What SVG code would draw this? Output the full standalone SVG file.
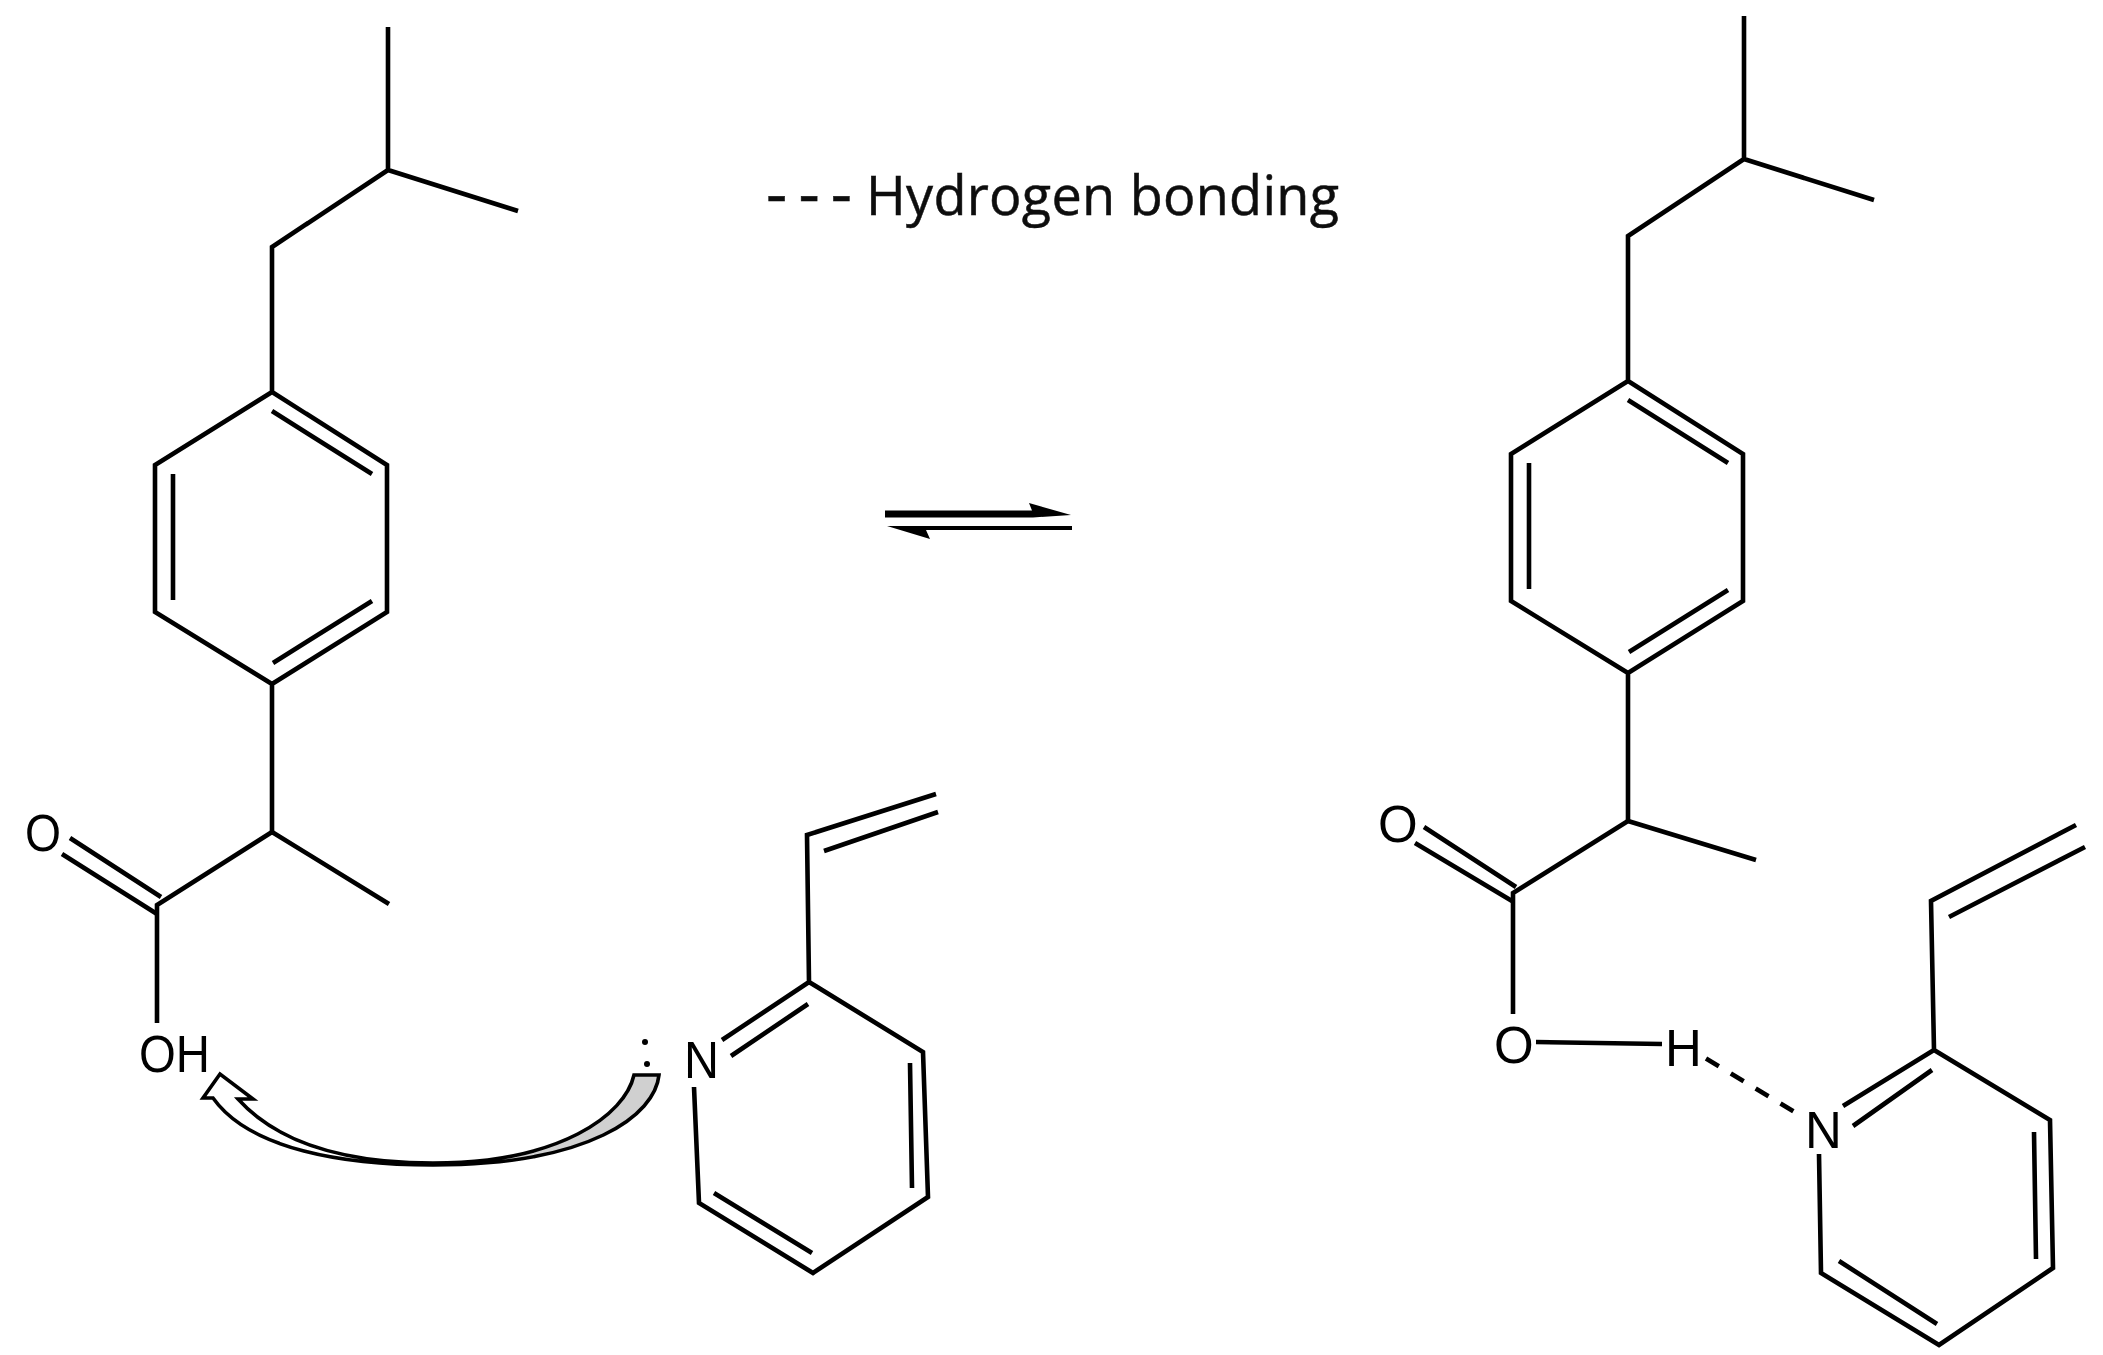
<svg xmlns="http://www.w3.org/2000/svg" width="2103" height="1355" viewBox="0 0 2103 1355">
<defs>
<style>
.b{fill:none;stroke:#000;stroke-width:4.6;stroke-linecap:butt;stroke-linejoin:miter}
.a{font-family:"Liberation Sans",Arial,sans-serif;font-size:51px;fill:#000}
.t{font-family:"Open Sans",sans-serif;font-size:54px;fill:#111;stroke:#111;stroke-width:.5}
</style>
<filter id="soft" x="0" y="0" width="2103" height="1355" filterUnits="userSpaceOnUse"><feGaussianBlur stdDeviation="0.6"/></filter>
<linearGradient id="tail" gradientUnits="userSpaceOnUse" x1="200" y1="0" x2="660" y2="0">
<stop offset="0.58" stop-color="#fff"/><stop offset="0.6" stop-color="#d0d0d0"/>
</linearGradient>
<g id="ibu">
<path class="b" d="M388,27V170L518,211M388,170L272,247V392L387,465V612L272,684L155,612V465L272,392M272,684V832"/>
<path class="b" d="M272,411L372,474M173,474V600M273,663L372,601"/>
</g>
</defs>
<rect width="2103" height="1355" fill="#fff"/>
<g filter="url(#soft)">
<g id="connectors">
<g id="left-bonds">
<use href="#ibu"/>
<path class="b" d="M272,832L389,904M272,832L157,905V1023"/>
<path class="b" d="M70,838L161,897M62,854L157,914"/>
<path class="b" d="M722,1040L809,982L923,1052L928,1197L813,1273L699,1203L694,1087M809,982L807,835L936,794"/>
<path class="b" d="M824,851L938,812M731,1056L808,1004M910,1063L912,1188M714,1193L812,1253"/>
</g>
<g id="right-bonds">
<use href="#ibu" x="1356" y="-11"/>
<path class="b" d="M1628,821L1756,860M1628,821L1513,893V1014"/>
<path class="b" d="M1424,827L1516,887M1415,843L1512,901"/>
<path class="b" d="M1536,1042L1662,1044"/>
<path class="b" stroke-width="5" stroke-dasharray="15 14" d="M1706,1058.5L1798,1114"/>
<path class="b" d="M1843,1106L1934,1050L2050,1120L2053,1268L1939,1345L1821,1273L1819,1154M1934,1050L1931,901L2076,825"/>
<path class="b" d="M1949,917L2085,847M1853,1126L1932,1070M2034,1132L2036,1259M1839,1261L1937,1324"/>
</g>
<g id="curved-arrow">
<path d="M659,1075C655,1115 590,1165 433,1165C345,1165 250,1150 213,1098L203,1098L220,1074L253,1099L238,1099C275,1140 340,1163 433,1163C560,1163 625,1115 634,1075Z" fill="url(#tail)" stroke="#000" stroke-width="3.6"/>
</g>
<g id="equilibrium-arrow">
<path d="M885,510.500H1032L1029,503L1071,515L1033,517.500H885Z" fill="#000"/>
<path d="M1072,526H924L887,526L930,539L926,530H1072Z" fill="#000"/>
</g>
</g>
<g id="legend"><text class="t"><tspan x="766" y="216" font-size="66" textLength="86">- - -</tspan><tspan x="866" y="215" textLength="473">Hydrogen bonding</tspan></text></g>
<g id="left-O"><text class="a" x="25" y="851" textLength="36" lengthAdjust="spacingAndGlyphs">O</text></g>
<g id="left-OH"><text class="a" x="139" y="1072" textLength="71" lengthAdjust="spacingAndGlyphs">OH</text></g>
<g id="left-N"><text class="a" x="684" y="1078" textLength="35" lengthAdjust="spacingAndGlyphs">N</text></g>
<g id="lone-pair"><circle cx="645" cy="1042" r="3" fill="#000"/><circle cx="647" cy="1064" r="3" fill="#000"/></g>
<g id="right-O1"><text class="a" x="1378" y="842">O</text></g>
<g id="right-O2"><text class="a" x="1494" y="1063">O</text></g>
<g id="right-H"><text class="a" x="1665" y="1066">H</text></g>
<g id="right-N"><text class="a" x="1805" y="1148">N</text></g>
</g>
</svg>
